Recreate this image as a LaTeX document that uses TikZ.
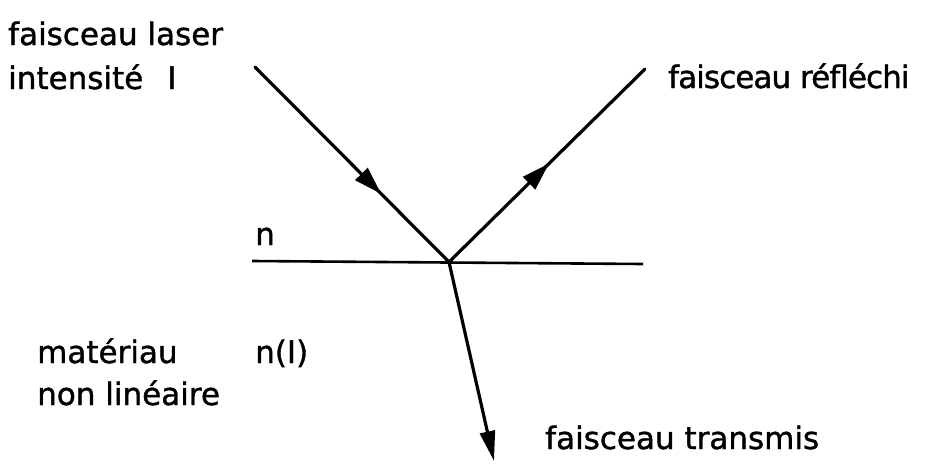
\documentclass[tikz,border=0pt]{standalone}
\usepackage{fontspec}
\setmainfont[FakeBold=1.2]{DejaVu Sans}
\usetikzlibrary{arrows.meta,decorations.markings}
\begin{document}
\begin{tikzpicture}[x=1pt,y=-1pt,
  lbl/.style={anchor=base west,inner sep=0pt,font=\fontsize{31}{37}\selectfont},
  ray/.style={line width=3.2pt,line cap=round},
  tipat/.style={postaction={decorate,decoration={markings,
     mark=at position #1 with {\arrow{Triangle[length=28pt,width=17pt]}}}}}]
\useasboundingbox (0,0) rectangle (928,463);
\coordinate (src) at (255,67);
\coordinate (o) at (449,262);
\coordinate (refl) at (645,69);
\coordinate (trans) at (494,461);
\coordinate (il) at (252,261);
\coordinate (ir) at (643,264);
\draw[line width=2.6pt] (il) -- (ir);
\draw[ray,tipat=0.65] (src) -- (o);
\draw[ray,tipat=0.51] (o) -- (refl);
\draw[ray,-{Triangle[length=30pt,width=15pt]}] (o) -- (trans);
\node[lbl] (fl) at (8,45) {faisceau laser};
\node[lbl] (it) at (8,89) {intensité\hspace{24pt}I};
\node[lbl] (fr) at (668,88) {\addfontfeature{LetterSpace=-3}faisceau réfléchi};
\node[lbl] (n) at (255,245) {n};
\node[lbl] (mat) at (37,363) {matériau};
\node[lbl] (nI) at (255,363) {n(I)};
\node[lbl] (nl) at (37,405) {non linéaire};
\node[lbl] (ft) at (545,449) {faisceau transmis};
\end{tikzpicture}
\end{document}
